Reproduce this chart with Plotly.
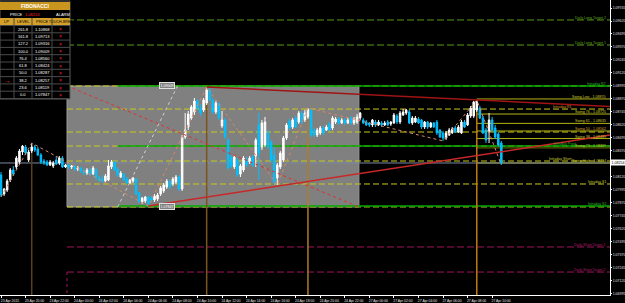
import plotly.graph_objects as go

# ---------------- canvas ----------------
W, H = 625, 303
ML, MR, MT, MB = 0, 15, 0, 8
PW, PH = W - ML - MR, H - MT - MB

# ---------------- data ----------------
bars = list(range(164))
opens = [1.08139,1.07956,1.07994,1.08090,1.08187,1.08216,1.08264,1.08360,1.08408,1.08283,
         1.08369,1.08408,1.08389,1.08331,1.08273,1.08264,1.08235,1.08225,1.08283,1.08254,
         1.08302,1.08216,1.08235,1.08216,1.08225,1.08196,1.08206,1.08177,1.08158,1.08187,
         1.08148,1.08187,1.08110,1.08100,1.08081,1.08090,1.08216,1.08264,1.08196,1.08119,
         1.08148,1.08100,1.08062,1.08081,1.08100,1.07966,1.07879,1.07889,1.07927,1.07917,
         1.07898,1.07908,1.07956,1.07985,1.08023,1.08081,1.08052,1.08071,1.08119,1.08004,
         1.08504,1.08600,1.08687,1.08745,1.08850,1.08783,1.08764,1.08831,1.08956,1.08860,
         1.08745,1.08822,1.08610,1.08668,1.08475,1.08312,1.08216,1.08283,1.08148,1.08187,
         1.08283,1.08264,1.08312,1.08321,1.08620,1.08408,1.08427,1.08543,1.08456,1.08331,
         1.08110,1.08216,1.08283,1.08494,1.08658,1.08600,1.08687,1.08648,1.08735,1.08668,
         1.08697,1.08764,1.08571,1.08523,1.08543,1.08591,1.08571,1.08629,1.08591,1.08648,
         1.08677,1.08639,1.08668,1.08639,1.08687,1.08639,1.08648,1.08687,1.08668,1.08648,
         1.08639,1.08620,1.08648,1.08620,1.08639,1.08620,1.08648,1.08629,1.08639,1.08706,
         1.08648,1.08716,1.08735,1.08745,1.08639,1.08648,1.08677,1.08668,1.08600,1.08648,
         1.08600,1.08639,1.08648,1.08571,1.08543,1.08494,1.08523,1.08543,1.08591,1.08552,
         1.08543,1.08648,1.08620,1.08706,1.08706,1.08764,1.08783,1.08687,1.08571,1.08552,
         1.08668,1.08591,1.08533,1.08446]
highs = [1.08167,1.08014,1.08100,1.08206,1.08225,1.08321,1.08389,1.08427,1.08427,1.08379,
         1.08446,1.08427,1.08408,1.08350,1.08292,1.08283,1.08283,1.08273,1.08321,1.08321,
         1.08321,1.08244,1.08244,1.08235,1.08235,1.08225,1.08216,1.08196,1.08206,1.08206,
         1.08225,1.08206,1.08129,1.08139,1.08148,1.08283,1.08283,1.08273,1.08216,1.08177,
         1.08158,1.08119,1.08100,1.08119,1.08110,1.07975,1.07927,1.07937,1.07937,1.07937,
         1.07956,1.07966,1.08033,1.08062,1.08100,1.08090,1.08119,1.08139,1.08139,1.08523,
         1.08735,1.08754,1.08812,1.08879,1.08870,1.08822,1.08879,1.08985,1.08975,1.08879,
         1.08850,1.08841,1.08754,1.08687,1.08494,1.08331,1.08331,1.08302,1.08244,1.08321,
         1.08312,1.08321,1.08331,1.08494,1.08735,1.08668,1.08697,1.08571,1.08475,1.08408,
         1.08254,1.08369,1.08514,1.08639,1.08677,1.08687,1.08706,1.08754,1.08754,1.08764,
         1.08783,1.08773,1.08591,1.08591,1.08610,1.08610,1.08620,1.08648,1.08706,1.08697,
         1.08697,1.08687,1.08687,1.08687,1.08706,1.08697,1.08725,1.08745,1.08687,1.08668,
         1.08648,1.08677,1.08668,1.08668,1.08658,1.08658,1.08668,1.08658,1.08735,1.08725,
         1.08754,1.08773,1.08773,1.08764,1.08706,1.08706,1.08697,1.08677,1.08658,1.08658,
         1.08648,1.08648,1.08668,1.08581,1.08562,1.08562,1.08591,1.08600,1.08610,1.08620,
         1.08668,1.08668,1.08735,1.08802,1.08850,1.08860,1.08802,1.08706,1.08591,1.08735,
         1.08697,1.08620,1.08552,1.08466]
lows = [1.07927,1.07937,1.07975,1.08071,1.08129,1.08196,1.08244,1.08331,1.08331,1.08264,
        1.08350,1.08360,1.08321,1.08244,1.08235,1.08225,1.08225,1.08206,1.08235,1.08235,
        1.08206,1.08206,1.08196,1.08196,1.08177,1.08177,1.08158,1.08139,1.08139,1.08129,
        1.08139,1.08090,1.08071,1.08062,1.08071,1.08081,1.08196,1.08177,1.08119,1.08110,
        1.08081,1.08052,1.08052,1.08062,1.07946,1.07869,1.07860,1.07869,1.07840,1.07879,
        1.07879,1.07889,1.07937,1.07966,1.08004,1.08004,1.08033,1.08052,1.07985,1.07985,
        1.08485,1.08571,1.08668,1.08716,1.08764,1.08706,1.08745,1.08812,1.08850,1.08725,
        1.08725,1.08668,1.08591,1.08485,1.08187,1.08206,1.08196,1.08119,1.08119,1.08167,
        1.08216,1.08244,1.08216,1.08216,1.08090,1.08379,1.08408,1.08389,1.08264,1.08052,
        1.08042,1.08196,1.08264,1.08475,1.08571,1.08581,1.08591,1.08629,1.08629,1.08648,
        1.08677,1.08504,1.08504,1.08504,1.08523,1.08523,1.08562,1.08562,1.08571,1.08629,
        1.08620,1.08629,1.08620,1.08629,1.08620,1.08620,1.08629,1.08668,1.08629,1.08610,
        1.08600,1.08600,1.08600,1.08610,1.08600,1.08610,1.08610,1.08610,1.08629,1.08629,
        1.08629,1.08706,1.08716,1.08629,1.08620,1.08639,1.08629,1.08581,1.08581,1.08581,
        1.08591,1.08591,1.08523,1.08494,1.08466,1.08475,1.08514,1.08533,1.08543,1.08543,
        1.08533,1.08591,1.08610,1.08687,1.08687,1.08745,1.08677,1.08533,1.08446,1.08446,
        1.08552,1.08485,1.08408,1.08235]
closes = [1.07946,1.08004,1.08081,1.08187,1.08148,1.08302,1.08369,1.08417,1.08350,1.08360,
          1.08408,1.08379,1.08331,1.08264,1.08254,1.08235,1.08264,1.08254,1.08244,1.08302,
          1.08216,1.08235,1.08216,1.08225,1.08196,1.08206,1.08177,1.08158,1.08187,1.08148,
          1.08206,1.08110,1.08090,1.08081,1.08129,1.08225,1.08264,1.08187,1.08139,1.08158,
          1.08090,1.08062,1.08090,1.08110,1.07956,1.07879,1.07917,1.07927,1.07860,1.07898,
          1.07937,1.07946,1.08014,1.08042,1.08081,1.08023,1.08100,1.08119,1.08004,1.08504,
          1.08571,1.08725,1.08793,1.08850,1.08783,1.08735,1.08860,1.08956,1.08860,1.08745,
          1.08831,1.08687,1.08668,1.08504,1.08206,1.08225,1.08312,1.08139,1.08225,1.08302,
          1.08235,1.08302,1.08235,1.08475,1.08350,1.08639,1.08648,1.08408,1.08283,1.08071,
          1.08235,1.08350,1.08494,1.08620,1.08591,1.08668,1.08600,1.08735,1.08648,1.08735,
          1.08773,1.08523,1.08523,1.08571,1.08591,1.08543,1.08600,1.08571,1.08687,1.08677,
          1.08639,1.08668,1.08639,1.08668,1.08639,1.08677,1.08697,1.08735,1.08639,1.08620,
          1.08620,1.08668,1.08620,1.08648,1.08620,1.08639,1.08620,1.08648,1.08716,1.08648,
          1.08735,1.08745,1.08764,1.08639,1.08687,1.08687,1.08639,1.08600,1.08648,1.08600,
          1.08639,1.08600,1.08543,1.08504,1.08494,1.08543,1.08571,1.08581,1.08552,1.08600,
          1.08648,1.08600,1.08716,1.08783,1.08841,1.08841,1.08687,1.08543,1.08475,1.08668,
          1.08571,1.08504,1.08427,1.08254]

time_labels = ["23 Apr 2015", "23 Apr 20:00", "23 Apr 22:00", "24 Apr 00:00", "24 Apr 02:00",
               "24 Apr 04:00", "24 Apr 06:00", "24 Apr 08:00", "24 Apr 10:00", "24 Apr 12:00",
               "24 Apr 14:00", "24 Apr 16:00", "24 Apr 18:00", "24 Apr 20:00", "24 Apr 22:00",
               "27 Apr 00:00", "27 Apr 02:00", "27 Apr 04:00", "27 Apr 06:00", "27 Apr 08:00",
               "27 Apr 10:00"]
time_label_bars = [0, 8, 16, 24, 32, 40, 48, 56, 64, 72, 80, 88, 96, 104, 112,
                   120, 128, 136, 144, 152, 160]

# price scale labels (the one under the current-price box is hidden in the reference)
price_tick_labels = ["1.09745", "1.09620", "1.09495", "1.09370", "1.09245", "1.09120",
                     "1.08995", "1.08870", "1.08745", "1.08620", "1.08495", "1.08370",
                     "1.08120", "1.07995", "1.07870", "1.07745", "1.07620",
                     "1.07495", "1.07370", "1.07245", "1.07120", "1.06995"]

x_range = [-0.33, 198.4]
y_range = [1.06984, 1.09822]

# fibonacci box (time bars / prices)
box_bar0, box_bar1 = 21.5, 116.6
box_high, box_low = 1.08995, 1.07831
fib_anchor_bars = [38, 57.5]
fib_box_labels = ["1.09009", "1.07847"]
fib_label_bar = 54

dash_levels = [1.08995, 1.08773, 1.08552, 1.08417, 1.08273, 1.08052, 1.07831]
green_levels = [1.08995, 1.08417, 1.07840]
green_start_bar = 38
swing_levels = [1.08870, 1.08725, 1.08635, 1.08562, 1.08489, 1.08399, 1.08254]
swing_start_bar = 155
daily_long = [1.09630, 1.09389]
daily_short = [1.07446, 1.07205]

level_labels = [
    ("Daily Long Target 2", 1.09630, "#5EA61A"),
    ("Daily Long Target 1", 1.09389, "#5EA61A"),
    ("Intraday R2", 1.08995, "#2DB82D"),
    ("Swing Low - 1.08870", 1.08870, "#C8C832"),
    ("Intraday R1", 1.08773, "#D89A2A"),
    ("Swing 76 - 1.08725", 1.08725, "#C8C832"),
    ("Swing 61 - 1.08635", 1.08635, "#C8C832"),
    ("Swing 50 - 1.08562", 1.08562, "#D89A2A"),
    ("Swing 38 - 1.08489", 1.08489, "#C8C832"),
    ("Intraday Pivot", 1.08417, "#2DB82D"),
    ("Swing 23 - 1.08399", 1.08399, "#C8C832"),
    ("Intraday Short", 1.08273, "#C8C832"),
    ("Swing High - 1.08254", 1.08254, "#C8C832"),
    ("Intraday S1", 1.08052, "#C8C832"),
    ("Intraday S2", 1.07840, "#2DB82D"),
    ("Daily Short Target 1", 1.07446, "#B0186A"),
    ("Daily Short Target 2", 1.07205, "#B0186A"),
]
label_dx = {"Intraday Pivot": -30, "Intraday Short": -34, "Intraday R1": -34}

red_upper = [(67, 1.08985), (155, 1.08860)]
red_lower = [(48, 1.07840), (155, 1.08326)]

zigzag = [(0, "L"), (10, "H"), (48, "L"), (67, "H"), (90, "L"), (100, "H"),
          (144, "L"), (155, "H"), (163, "L")]

vlines = [(10, "#5A4018"), (67, "#7A5520"), (100, "#B07A30"), (155, "#C07A10")]

fib_table_levels = ["261.8", "161.8", "127.2", "100.0", "76.4", "61.8", "50.0", "38.2", "23.6", "0.0"]
fib_table_prices = ["1.10868", "1.09713", "1.09316", "1.09009", "1.08560", "1.08424",
                    "1.08287", "1.08257", "1.08119", "1.07847"]
fib_current = "1.08253"

# ---------------- figure ----------------
FONT = "Liberation Sans"
fig = go.Figure()

fig.add_trace(go.Candlestick(
    x=bars, open=opens, high=highs, low=lows, close=closes,
    increasing=dict(line=dict(color="#FFFFFF", width=1), fillcolor="#FFFFFF"),
    decreasing=dict(line=dict(color="#00C0FF", width=1), fillcolor="#00C0FF"),
    whiskerwidth=0, showlegend=False, hoverinfo="skip"))

shapes = []
shapes.append(dict(type="rect", xref="x", yref="y", x0=box_bar0, x1=box_bar1,
                   y0=box_low, y1=box_high, fillcolor="#808080",
                   line=dict(color="#9A9A9A", width=1), layer="below"))

def hline(y, x0, color, width=1, dash="solid", layer="above"):
    shapes.append(dict(type="line", xref="x", yref="y", x0=x0, x1=x_range[1],
                       y0=y, y1=y, line=dict(color=color, width=width, dash=dash),
                       layer=layer))

for lv in dash_levels:
    hline(lv, box_bar0, "#C8C81E", 1, "6px,3px", "below")
for lv in daily_long:
    hline(lv, box_bar0, "#5A9A16", 1, "7px,3px", "below")
for lv in daily_short:
    hline(lv, box_bar0, "#A0145A", 1, "7px,3px", "below")
for lv in green_levels:
    hline(lv, green_start_bar, "#00A800", 1.5, "solid", "below")
for i, lv in enumerate(swing_levels):
    hline(lv, swing_start_bar, "#6E6E00" if i == 5 else "#B4B414", 1, "solid", "below")

hline(closes[-1], x_range[0], "#7C8AA0", 1, "solid", "below")

for b, col in vlines:
    shapes.append(dict(type="line", xref="x", yref="y", x0=b, x1=b, y0=highs[b],
                       y1=y_range[0], line=dict(color=col, width=1.5), layer="below"))

def ray(p, color, dash="solid", width=1):
    (b0, p0), (b1, p1) = p
    slope = (p1 - p0) / (b1 - b0)
    xe = x_range[1]
    shapes.append(dict(type="line", xref="x", yref="y", x0=b0, y0=p0, x1=xe,
                       y1=p0 + slope * (xe - b0), line=dict(color=color, width=width, dash=dash),
                       layer="above"))

ray(red_upper, "#A01414", width=1.5)
ray(red_lower, "#C82828", width=1.5)

shapes.append(dict(type="line", xref="x", yref="y", x0=box_bar0, y0=box_high, x1=box_bar1,
                   y1=box_low, line=dict(color="#E03030", width=1, dash="dot")))
shapes.append(dict(type="line", xref="x", yref="y", x0=fib_anchor_bars[0], y0=box_low,
                   x1=fib_anchor_bars[1], y1=box_high, line=dict(color="#D0D0D0", width=1, dash="dot")))
shapes.append(dict(type="line", xref="x", yref="y", x0=box_bar0, x1=box_bar0, y0=daily_short[1],
                   y1=y_range[0], line=dict(color="#A0145A", width=1, dash="dot")))

zx = [b for b, t in zigzag]
zy = [highs[b] if t == "H" else lows[b] for b, t in zigzag]
fig.add_trace(go.Scatter(x=zx, y=zy, mode="lines", line=dict(color="#D8876A", width=1, dash="dot"),
                         showlegend=False, hoverinfo="skip"))

annotations = []
for txt, lv, col in level_labels:
    annotations.append(dict(text=txt, xref="paper", yref="y", x=607 / PW, y=lv,
                            xanchor="right", yanchor="bottom", showarrow=False,
                            xshift=label_dx.get(txt, 0), borderpad=0,
                            font=dict(size=3.6, color=col, family=FONT), yshift=-1))

for txt, lv in zip(fib_box_labels, [box_high, box_low]):
    annotations.append(dict(text=txt, xref="x", yref="y", x=fib_label_bar, y=lv, showarrow=False,
                            font=dict(size=3.6, color="#FFFFFF", family=FONT), bgcolor="#808080",
                            bordercolor="#E0E0E0", borderwidth=1, borderpad=0.5))

annotations.append(dict(text=f"{closes[-1]:.5f}", xref="paper", yref="y", x=1.0, y=closes[-1],
                        xanchor="left", showarrow=False, bgcolor="#FFFFFF", xshift=0,
                        font=dict(size=3.6, color="#000000", family=FONT), borderpad=0.5))

# ---------------- fibonacci table (pixel layout) ----------------
def px(x):
    return x / PW

def py(y):
    return 1 - y / PH

TX1 = 70
shapes.append(dict(type="rect", xref="paper", yref="paper", x0=px(0), x1=px(TX1), y0=py(1), y1=py(99),
                   fillcolor="#000000", line=dict(color="#5A5A5A", width=1), layer="above"))
shapes.append(dict(type="rect", xref="paper", yref="paper", x0=px(0), x1=px(TX1), y0=py(2), y1=py(10),
                   fillcolor="#C8961E", line=dict(width=0), layer="above"))
shapes.append(dict(type="rect", xref="paper", yref="paper", x0=px(0), x1=px(TX1), y0=py(18), y1=py(25.5),
                   fillcolor="#D4A02A", line=dict(width=0), layer="above"))
row_h = 7.3
for k in range(11):
    yy = 25.5 + row_h * k
    shapes.append(dict(type="line", xref="paper", yref="paper", x0=px(0), x1=px(TX1), y0=py(yy), y1=py(yy),
                       line=dict(color="#4A4A4A", width=1), layer="above"))
for xx in [14, 32, 52]:
    shapes.append(dict(type="line", xref="paper", yref="paper", x0=px(xx), x1=px(xx), y0=py(18), y1=py(99),
                       line=dict(color="#4A4A4A", width=1), layer="above"))

def ttext(t, x, y, col="#FFFFFF", size=4, anchor="center"):
    annotations.append(dict(text=t, xref="paper", yref="paper", x=px(x), y=py(y), xanchor=anchor,
                            yanchor="middle", showarrow=False, borderpad=0,
                            font=dict(size=size, color=col, family=FONT)))

ttext("<b>FIBONACCI</b>", 35, 6.5, size=5)
ttext("PRICE", 16, 14)
ttext(fib_current, 32, 14, col="#FF2020")
ttext("ALARM", 63, 14)
ttext("LP", 6, 21.8, col="#000000")
ttext("LEVEL", 23, 21.8, col="#000000")
ttext("PRICE", 42, 21.8, col="#000000")
ttext("TOUCH-BREAK", 62, 21.8, col="#000000", size=3.6)
for k, (lv, pr) in enumerate(zip(fib_table_levels, fib_table_prices)):
    yc = 25.5 + row_h * (k + 0.5)
    ttext(lv, 23, yc)
    ttext(pr, 42, yc)
    ttext("×", 60, yc, col="#FF2020", size=5)
ttext("→", 7, 25.5 + row_h * 7.5, col="#FF2020", size=7)

fig.update_layout(
    width=W, height=H, margin=dict(l=ML, r=MR, t=MT, b=MB, autoexpand=False),
    paper_bgcolor="#000000", plot_bgcolor="#000000",
    shapes=shapes, annotations=annotations, showlegend=False,
    xaxis=dict(range=x_range, rangeslider=dict(visible=False), showgrid=False, zeroline=False,
               tickvals=time_label_bars, ticktext=time_labels, ticks="outside", ticklen=2,
               tickcolor="#FFFFFF", showline=True, linecolor="#FFFFFF", linewidth=1,
               tickangle=0, automargin=False,
               tickfont=dict(size=3.4, color="#E0E0E0", family=FONT), ticklabelshift=9,
               ticklabelstandoff=0),
    yaxis=dict(range=y_range, side="right", showgrid=False, zeroline=False,
               tickvals=[float(s) for s in price_tick_labels], ticktext=price_tick_labels,
               ticks="outside", ticklen=1, tickcolor="#FFFFFF", showline=True,
               linecolor="#FFFFFF", linewidth=1, automargin=False,
               tickfont=dict(size=3.5, color="#E0E0E0", family=FONT), ticklabelstandoff=0),
)

fig.write_html("out.html")
